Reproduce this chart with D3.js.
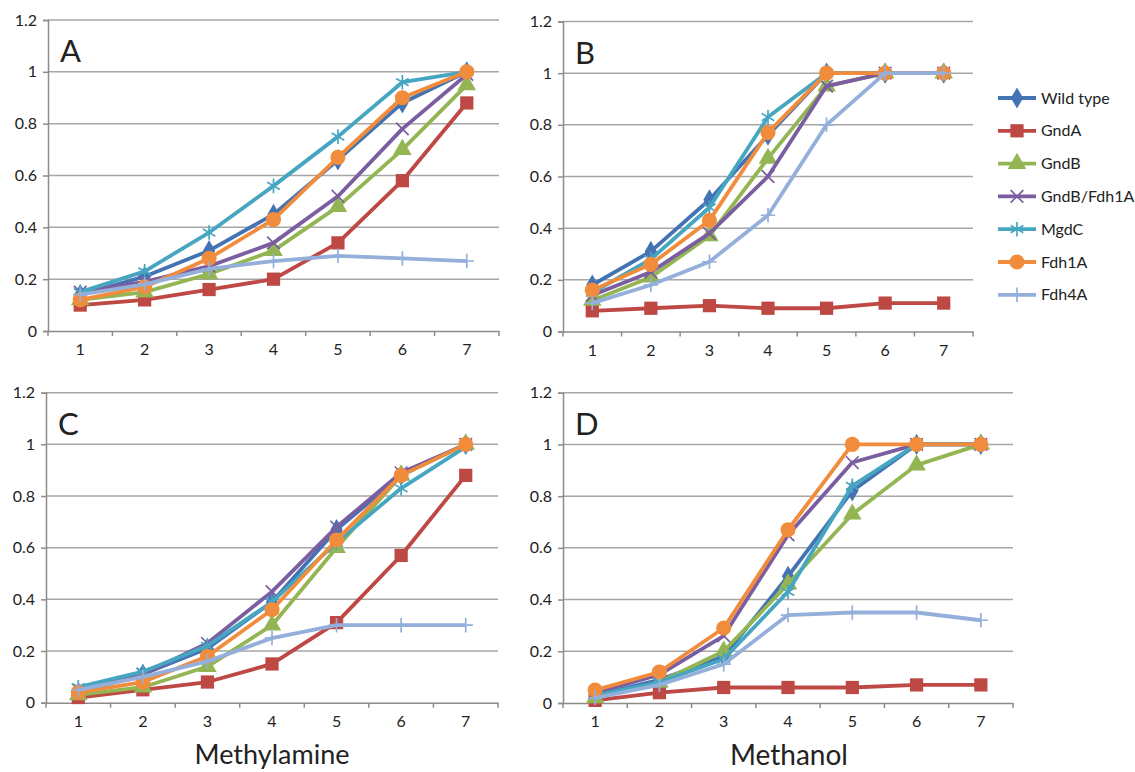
<!DOCTYPE html>
<html>
<head>
  <script src="https://d3js.org/d3.v7.min.js"></script>
  <style>
    body { margin: 0; background: #fff; }
    svg text { font-family: Lato, "Open Sans", sans-serif; fill: #222; }
  </style>
</head>
<body>
<div id="chart"></div>
<script>
  // categories and series names
  var cats = ["1", "2", "3", "4", "5", "6", "7"];
  var names = ["Wild type", "GndA", "GndB", "GndB/Fdh1A", "MgdC", "Fdh1A", "Fdh4A"];
  var yTicks = [0, 0.2, 0.4, 0.6, 0.8, 1, 1.2];
  var colors = ["#4473b4", "#bd4844", "#93b553", "#7a5ea0", "#46a6c2", "#f08c3c", "#93afda"];
  var symbols = [d3.symbolDiamond, d3.symbolSquare, d3.symbolTriangle, d3.symbolX, d3.symbolAsterisk, d3.symbolCircle, d3.symbolPlus];
  var symSize = [130, 175, 150, 105, 150, 180, 70];
  var stroked = [false, false, false, true, true, false, true];

  // panel A (methylamine)
  var wtA   = [0.14, 0.21, 0.31, 0.45, 0.66, 0.88, 1.00];
  var gndaA = [0.10, 0.12, 0.16, 0.20, 0.34, 0.58, 0.88];
  var gndbA = [0.12, 0.15, 0.22, 0.31, 0.48, 0.70, 0.95];
  var gfA   = [0.15, 0.19, 0.25, 0.34, 0.52, 0.78, 0.99];
  var mgdA  = [0.15, 0.23, 0.38, 0.56, 0.75, 0.96, 1.00];
  var f1A   = [0.12, 0.17, 0.28, 0.43, 0.67, 0.90, 1.00];
  var f4A   = [0.14, 0.18, 0.24, 0.27, 0.29, 0.28, 0.27];

  // panel B (methanol)
  var wtB   = [0.18, 0.31, 0.51, 0.76, 1.00, 1.00, 1.00];
  var gndaB = [0.08, 0.09, 0.10, 0.09, 0.09, 0.11, 0.11];
  var gndbB = [0.12, 0.21, 0.37, 0.67, 0.95, 1.00, 1.00];
  var gfB   = [0.14, 0.23, 0.38, 0.60, 0.95, 1.00, 1.00];
  var mgdB  = [0.15, 0.28, 0.48, 0.83, 1.00, 1.00, 1.00];
  var f1B   = [0.16, 0.26, 0.43, 0.77, 1.00, 1.00, 1.00];
  var f4B   = [0.11, 0.18, 0.27, 0.45, 0.80, 1.00, 1.00];

  // panel C (methylamine)
  var wtC   = [0.04, 0.11, 0.21, 0.39, 0.67, 0.88, 1.00];
  var gndaC = [0.02, 0.05, 0.08, 0.15, 0.31, 0.57, 0.88];
  var gndbC = [0.03, 0.06, 0.14, 0.30, 0.60, 0.88, 1.00];
  var gfC   = [0.05, 0.11, 0.23, 0.43, 0.68, 0.89, 1.00];
  var mgdC  = [0.06, 0.12, 0.22, 0.39, 0.62, 0.83, 0.99];
  var f1C   = [0.04, 0.08, 0.18, 0.36, 0.63, 0.88, 1.00];
  var f4C   = [0.05, 0.10, 0.16, 0.25, 0.30, 0.30, 0.30];

  // panel D (methanol)
  var wtD   = [0.03, 0.09, 0.18, 0.49, 0.82, 1.00, 1.00];
  var gndaD = [0.01, 0.04, 0.06, 0.06, 0.06, 0.07, 0.07];
  var gndbD = [0.02, 0.08, 0.20, 0.46, 0.73, 0.92, 1.00];
  var gfD   = [0.04, 0.11, 0.26, 0.65, 0.93, 1.00, 1.00];
  var mgdD  = [0.03, 0.08, 0.17, 0.43, 0.84, 1.00, 1.00];
  var f1D   = [0.05, 0.12, 0.29, 0.67, 1.00, 1.00, 1.00];
  var f4D   = [0.02, 0.07, 0.15, 0.34, 0.35, 0.35, 0.32];

  var svg = d3.select("#chart").append("svg")
        .attr("width", 1135)
        .attr("height", 772);

  // draw one panel inside the box [l, r] x [t, b]
  function drawPanel(letter, series, l, r, t, b) {
    var x = d3.scaleBand().domain(cats).range([l, r]),
        y = d3.scaleLinear().domain([0, 1.2]).range([b, t]);
    var g = svg.append("g");

    // gridlines
    g.selectAll(".grid").data(yTicks.slice(1)).enter().append("line")
      .attr("x1", l).attr("x2", r)
      .attr("y1", function(d) { return y(d); }).attr("y2", function(d) { return y(d); })
      .attr("stroke", "#a6a6a6").attr("stroke-width", 1.5);

    // y axis
    var yAxis = g.append("g")
      .attr("transform", "translate(" + l + ",0)")
      .call(d3.axisLeft(y).tickValues(yTicks).tickSize(5).tickPadding(6)
        .tickFormat(function(d) { return d3.format("")(+d.toFixed(1)); }));
    yAxis.select(".domain").attr("stroke", "#8c8c8c").attr("stroke-width", 1.5);
    yAxis.selectAll(".tick line").attr("stroke", "#8c8c8c").attr("stroke-width", 1.5);
    yAxis.selectAll("text").style("font-size", "16px").attr("fill", "#222");

    // x axis: labels at band centres, ticks at band edges
    var xAxis = g.append("g")
      .attr("transform", "translate(0," + b + ")")
      .call(d3.axisBottom(x).tickSize(0).tickPadding(13));
    xAxis.select(".domain").attr("stroke", "#8c8c8c").attr("stroke-width", 1.5);
    xAxis.selectAll("text").style("font-size", "16px").attr("fill", "#222");
    var edges = cats.map(function(c) { return x(c); }).concat([r]);
    xAxis.selectAll(".edge").data(edges).enter().append("line")
      .attr("x1", function(d) { return d; }).attr("x2", function(d) { return d; })
      .attr("y1", 0).attr("y2", 5)
      .attr("stroke", "#8c8c8c").attr("stroke-width", 1.5);

    var cx = function(d, i) { return x(cats[i]) + x.bandwidth() / 2; };
    var line = d3.line().x(cx).y(function(d) { return y(d); });

    series.forEach(function(vals, k) {
      g.append("path").datum(vals)
        .attr("fill", "none")
        .attr("stroke", colors[k])
        .attr("stroke-width", 3.8)
        .attr("stroke-linejoin", "round")
        .attr("d", line);
      g.selectAll(".m" + k).data(vals).enter().append("path")
        .attr("transform", function(d, i) { return "translate(" + cx(d, i) + "," + y(d) + ")"; })
        .attr("d", d3.symbol().type(symbols[k]).size(symSize[k]))
        .attr("fill", stroked[k] ? "none" : colors[k])
        .attr("stroke", stroked[k] ? colors[k] : "none")
        .attr("stroke-width", 1.7);
    });

    g.append("text")
      .attr("x", l + 12).attr("y", t + 42)
      .style("font-size", "31px").attr("fill", "#111")
      .text(letter);
  }

  drawPanel("A", [wtA, gndaA, gndbA, gfA, mgdA, f1A, f4A], 48, 499, 20, 331);
  drawPanel("B", [wtB, gndaB, gndbB, gfB, mgdB, f1B, f4B], 563, 973, 21.5, 331.5);
  drawPanel("C", [wtC, gndaC, gndbC, gfC, mgdC, f1C, f4C], 46, 498, 392.7, 702.7);
  drawPanel("D", [wtD, gndaD, gndbD, gfD, mgdD, f1D, f4D], 563, 1013, 392.7, 703);

  // axis titles under the bottom panels
  svg.append("text").attr("x", 272).attr("y", 764).attr("text-anchor", "middle")
    .style("font-size", "27px").attr("fill", "#111").text("Methylamine");
  svg.append("text").attr("x", 789).attr("y", 765).attr("text-anchor", "middle")
    .style("font-size", "28px").attr("fill", "#111").text("Methanol");

  // legend
  var legend = svg.append("g").attr("transform", "translate(998,98)");
  var rows = legend.selectAll(".row").data(names).enter().append("g")
    .attr("transform", function(d, i) { return "translate(0," + (i * 32.8) + ")"; });
  rows.append("line").attr("x1", 0).attr("x2", 38).attr("y1", 0).attr("y2", 0)
    .attr("stroke", function(d, i) { return colors[i]; }).attr("stroke-width", 3.8);
  rows.append("path")
    .attr("transform", "translate(19,0)")
    .attr("d", function(d, i) { return d3.symbol().type(symbols[i]).size(symSize[i])(); })
    .attr("fill", function(d, i) { return stroked[i] ? "none" : colors[i]; })
    .attr("stroke", function(d, i) { return stroked[i] ? colors[i] : "none"; })
    .attr("stroke-width", 1.7);
  rows.append("text").attr("x", 43).attr("y", 0).attr("dy", "0.35em")
    .style("font-size", "16px").attr("fill", "#111")
    .text(function(d) { return d; });
</script>
</body>
</html>
